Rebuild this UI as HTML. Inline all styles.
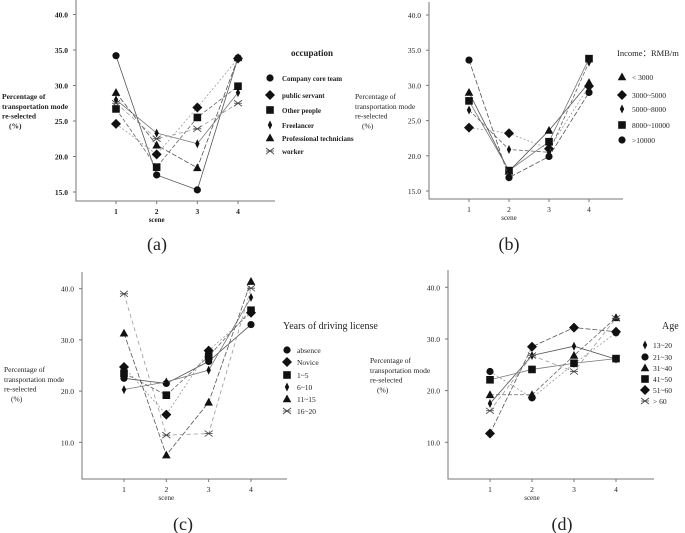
<!DOCTYPE html>
<html><head><meta charset="utf-8">
<style>
html,body{margin:0;padding:0;background:#fff;width:685px;height:533px;overflow:hidden}
svg{display:block;font-family:"Liberation Serif",serif}
</style></head>
<body>
<svg id="fig" width="685" height="533" viewBox="0 0 685 533"></svg>
<script>
const scenes = [1,2,3,4];
// (a) occupation
const aNames = ["Company core team","public servant","Other people","Freelancer","Professional technicians","worker"];
const aMarks = ["circle","diamond","square","thin","triangle","star"];
const aCore = [34.2,17.4,15.3,33.9];
const aPublic = [24.6,20.3,26.9,33.8];
const aOther = [26.7,18.5,25.5,29.9];
const aFree = [28.0,23.3,21.8,29.0];
const aTech = [29.0,21.6,18.4,33.9];
const aWorker = [27.5,22.5,23.9,27.5];
const aTicks = [15,20,25,30,35,40];
// (b) income
const bNames = ["< 3000","3000~5000","5000~8000","8000~10000",">10000"];
const bMarks = ["triangle","diamond","thin","square","circle"];
const bLow = [29.0,17.8,23.6,30.4];
const bMid1 = [24.0,23.2,21.0,29.9];
const bMid2 = [26.5,20.9,20.5,33.3];
const bMid3 = [27.8,17.9,22.0,33.8];
const bHigh = [33.6,16.9,19.9,29.0];
const bTicks = [15,20,25,30,35,40];
// (c) driving license
const cNames = ["absence","Novice","1~5","6~10","11~15","16~20"];
const cMarks = ["circle","diamond","square","thin","triangle","star"];
const cAbs = [22.5,21.5,25.8,33.0];
const cNov = [24.7,15.4,27.9,35.3];
const c15 = [23.5,19.2,26.8,35.8];
const c610 = [20.3,21.8,24.1,38.3];
const c1115 = [31.3,7.5,17.8,41.4];
const c1620 = [39.0,11.4,11.7,40.1];
const cTicks = [10,20,30,40];
// (d) age
const dNames = ["13~20","21~30","31~40","41~50","51~60","> 60"];
const dMarks = ["thin","circle","triangle","square","diamond","star"];
const d1320 = [17.5,26.8,28.6,26.1];
const d2130 = [23.7,18.6,25.2,31.2];
const d3140 = [19.2,19.2,26.8,34.1];
const d4150 = [22.1,24.1,25.3,26.2];
const d5160 = [11.7,28.5,32.2,31.4];
const d60 = [16.1,26.8,23.7,34.0];
const dTicks = [10,20,30,40];

const NS="http://www.w3.org/2000/svg";
const svg=document.getElementById('fig');
function el(tag,attrs,parent){const e=document.createElementNS(NS,tag);for(const k in attrs)e.setAttribute(k,attrs[k]);(parent||svg).appendChild(e);return e;}
function txt(x,y,s,size,anchor,parent,weight){const t=el('text',{x:x,y:y,'font-size':size,'text-anchor':anchor||'start',fill:'#222'},parent);if(weight)t.setAttribute('font-weight',weight);t.textContent=s;return t;}
function marker(g,type,x,y){
  let m;
  if(type==='circle') m=el('circle',{cx:x,cy:y,r:3.6,fill:'#111'},g);
  else if(type==='square') m=el('rect',{x:x-3.8,y:y-3.8,width:7.6,height:7.6,fill:'#111'},g);
  else if(type==='diamond') m=el('path',{d:`M${x},${y-5}L${x+5},${y}L${x},${y+5}L${x-5},${y}Z`,fill:'#111'},g);
  else if(type==='thin') m=el('path',{d:`M${x},${y-4.5}L${x+2.2},${y}L${x},${y+4.5}L${x-2.2},${y}Z`,fill:'#111'},g);
  else if(type==='triangle') m=el('path',{d:`M${x},${y-4.5}L${x+4.3},${y+3.3}L${x-4.3},${y+3.3}Z`,fill:'#111'},g);
  else m=el('path',{d:`M${x-4},${y-3}L${x+4},${y+3}M${x-4},${y+3}L${x+4},${y-3}M${x-4},${y}L${x+4},${y}`,stroke:'#444','stroke-width':0.8,fill:'none'},g);
  return m;
}
const styles=[
 {stroke:'#555',dash:''},{stroke:'#999',dash:'2,2'},{stroke:'#666',dash:'4,2'},
 {stroke:'#777',dash:''},{stroke:'#555',dash:'5,2'},{stroke:'#999',dash:'4,3'}
];
function panel(cfg){
  const g=el('g',{},svg);
  
  
  const yS=v=>cfg.y0+(v-cfg.v0)*(cfg.y1-cfg.y0)/(cfg.v1-cfg.v0);
  const xS=s=>cfg.xt0+(s-1)*(cfg.xt3-cfg.xt0)/3;
  const w=cfg.bold?'bold':null;
  const ax=el('path',{d:`M${cfg.ax},${cfg.top}V${cfg.base}H${cfg.xend}`,stroke:'#777','stroke-width':1,fill:'none'},g);
  
  
  cfg.ticks.forEach(t=>{
    const y=yS(t);
    el('line',{x1:cfg.ax-3,x2:cfg.ax,y1:y,y2:y,stroke:'#777'},g);
    const l=txt(cfg.ax-8,y+3,t.toFixed(1),7.5,'end',g,w);
    
    
  });
  scenes.forEach(s=>{
    const x=xS(s);
    el('line',{x1:x,x2:x,y1:cfg.base,y2:cfg.base+3,stroke:'#777'},g);
    const l=txt(x,cfg.base+13,String(s),7.5,'middle',g,w);
    
    
  });
  const xt=txt(xS(2),cfg.base+21,'scene',7,'middle',g,w);
  
  
  const yt=el('g',{},g);
  
  
  ['Percentage of','transportation mode','re-selected','(%)'].forEach((s,i)=>{
    txt(cfg.ytx+(i===3?7:0),cfg.yty+i*9.8,s,7.5,'start',yt,w);
  });
  cfg.series.forEach((vals,i)=>{
    const st=styles[i%styles.length];
    const d=vals.map((v,j)=>(j?'L':'M')+xS(scenes[j])+','+yS(v)).join('');
    const p=el('path',{d:d,stroke:st.stroke,'stroke-width':0.8,fill:'none','stroke-dasharray':st.dash},g);
    
    
    vals.forEach((v,j)=>{
      const m=marker(g,cfg.marks[i],xS(scenes[j]),yS(v));
      
      
    });
  });
  const lg=el('g',{},g);
  
  
  txt(cfg.ltx,cfg.lty,cfg.ltitle,cfg.ltsize,'start',lg,w);
  cfg.names.forEach((n,i)=>{
    const y=cfg.ly[i];
    marker(lg,cfg.marks[i],cfg.lmx,y);
    const t=txt(cfg.lx,y+3,n,cfg.lsize,'start',lg,w);
    
    
  });
  const lab=txt(cfg.labx,cfg.laby,cfg.label,18,'middle',g);
  
  
}
panel({id:'a',bold:true,ax:76,top:0,base:201,xend:275,v0:40,y0:14.5,v1:15,y1:192,xt0:116,xt3:238,ticks:aTicks,
 series:[aCore,aPublic,aOther,aFree,aTech,aWorker],marks:aMarks,names:aNames,
 ytx:2,yty:99,ltitle:'occupation',ltx:291,lty:56,ltsize:9,lmx:270,lx:282,lsize:7,ly:[78,95,110,125,138,151],
 label:'(a)',labx:157,laby:250});
panel({id:'b',ax:429,top:2,base:199,xend:623,v0:40,y0:15,v1:15,y1:191,xt0:469,xt3:589,ticks:bTicks,
 series:[bLow,bMid1,bMid2,bMid3,bHigh],marks:bMarks,names:bNames,
 ytx:355,yty:99,ltitle:'Income：RMB/m',ltx:617,lty:56,ltsize:8.5,lmx:622,lx:632,lsize:7.5,ly:[77,95,109,125,140],
 label:'(b)',labx:509,laby:250});
panel({id:'c',ax:82,top:272,base:479,xend:287,v0:40,y0:288.7,v1:10,y1:442.3,xt0:124,xt3:251,ticks:cTicks,
 series:[cAbs,cNov,c15,c610,c1115,c1620],marks:cMarks,names:cNames,
 ytx:4,yty:372,ltitle:'Years of driving license',ltx:283,lty:329,ltsize:10,lmx:287,lx:297,lsize:7.5,ly:[350,362,375,387,399,411],
 label:'(c)',labx:183,laby:530});
panel({id:'d',ax:448,top:270,base:479,xend:654,v0:40,y0:287.3,v1:10,y1:442.3,xt0:490,xt3:616,ticks:dTicks,
 series:[d1320,d2130,d3140,d4150,d5160,d60],marks:dMarks,names:dNames,
 ytx:370,yty:363,ltitle:'Age',ltx:662,lty:329,ltsize:10,lmx:645,lx:653,lsize:7.5,ly:[345,357,368,379,390,401],
 label:'(d)',labx:562,laby:530});
</script>
</body></html>
